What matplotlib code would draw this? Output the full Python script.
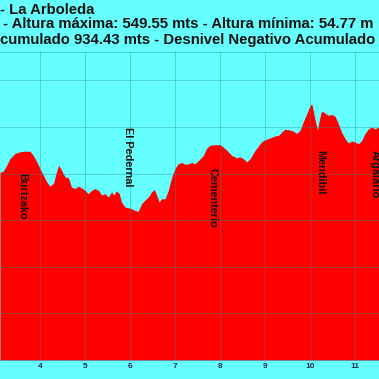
import matplotlib
matplotlib.use("Agg")
import matplotlib.pyplot as plt

# Distance (km) and elevation (m) of the profile
km = [3.11, 3.18, 3.26, 3.33, 3.44, 3.52, 3.63, 3.78, 3.85, 3.93, 4.04, 4.15, 4.22, 4.30,
      4.355, 4.415, 4.48, 4.555, 4.63, 4.70, 4.78, 4.85, 4.93, 5.00, 5.07, 5.15, 5.22, 5.30,
      5.37, 5.44, 5.52, 5.59, 5.64, 5.70, 5.76, 5.81, 5.89, 6.00, 6.11, 6.18, 6.26, 6.33,
      6.41, 6.48, 6.54, 6.59, 6.65, 6.70, 6.78, 6.85, 6.93, 7.00, 7.07, 7.15, 7.22, 7.30,
      7.37, 7.44, 7.52, 7.63, 7.70, 7.78, 7.89, 8.00, 8.07, 8.15, 8.26, 8.37, 8.44, 8.52,
      8.59, 8.67, 8.78, 8.89, 8.96, 9.07, 9.15, 9.22, 9.30, 9.37, 9.44, 9.54, 9.63, 9.70,
      9.78, 9.85, 9.93, 10.00, 10.04, 10.07, 10.13, 10.17, 10.20, 10.24, 10.27, 10.33,
      10.41, 10.48, 10.555, 10.63, 10.70, 10.78, 10.85, 10.93, 11.00, 11.07, 11.15, 11.22,
      11.30, 11.37, 11.44, 11.53]
elev = [403, 405, 418, 432, 443, 446, 448, 448, 439, 425, 403, 382, 373, 379,
        400, 418, 407, 393, 391, 371, 368, 373, 369, 364, 357, 364, 368, 364,
        354, 357, 350, 361, 354, 363, 357, 339, 328, 326, 321, 319, 336, 343,
        350, 361, 366, 354, 339, 346, 346, 364, 393, 411, 421, 424, 420, 421,
        424, 421, 428, 439, 454, 461, 462, 462, 457, 450, 439, 434, 436, 432,
        425, 432, 450, 464, 471, 475, 478, 481, 482, 489, 495, 494, 491, 486,
        493, 511, 529, 546, 549.55, 536, 507, 494, 511, 529, 534, 530,
        525, 527, 523, 507, 489, 475, 466, 470, 468, 464, 471, 486,
        496, 500, 496, 500]

# Waypoint labels
wp_names = ["Burtzako", "El Pedernal", "Cementerio", "Mendibil", "Argalario"]
wp_km = [3.61, 5.95, 7.84, 10.22, 11.44]
wp_top = [401, 500, 412, 451, 451]

x_ticks = [4, 5, 6, 7, 8, 9, 10, 11]
y_grid = [100, 200, 300, 400, 500, 600]

title_1 = "- La Arboleda"
title_2 = "- Altura máxima: 549.55 mts - Altura mínima: 54.77 m"
title_3 = "cumulado 934.43 mts - Desnivel Negativo Acumulado"

BG = "#66FFFF"
FILL = "#FF0000"

fig = plt.figure(figsize=(3.79, 3.79), dpi=100, facecolor=BG)
ax = fig.add_axes([0.0, 19 / 379, 1.0, 308 / 379])
ax.set_facecolor(BG)

ax.fill_between(km, elev, 0, color=FILL, linewidth=0, zorder=1)

ax.set_xlim(3.111, 11.533)
ax.set_ylim(0, 661)
ax.set_xticks(x_ticks)
ax.set_xticklabels([str(t) for t in x_ticks])
ax.set_yticks(y_grid)
ax.tick_params(axis="x", length=0, pad=2, labelsize=6, labelcolor="#1F2D4D")
ax.tick_params(axis="y", length=0, labelleft=False)
for lab in ax.get_xticklabels():
    lab.set_fontweight("bold")
    lab.set_fontfamily("Liberation Sans")

ax.grid(True, color="#2A8C96", alpha=0.45, linewidth=0.6, zorder=2)
ax.set_axisbelow(False)
for s in ["left", "right"]:
    ax.spines[s].set_visible(False)
for s in ["top", "bottom"]:
    ax.spines[s].set_color("#2A8C96")
    ax.spines[s].set_alpha(0.45)
    ax.spines[s].set_linewidth(0.6)

for name, xk, yt in zip(wp_names, wp_km, wp_top):
    ax.text(xk, yt, name, rotation=-90, ha="center", va="top",
            fontsize=7.8, fontweight="bold", family="Liberation Sans",
            color="#111111", zorder=3)

tkw = dict(fontsize=10.7, fontweight="bold", family="Liberation Sans",
           color="#111111", va="baseline", ha="left")
fig.text(0 / 379, 1 - 14 / 379, title_1, **tkw)
fig.text(3 / 379, 1 - 28.5 / 379, title_2, **tkw)
fig.text(0 / 379, 1 - 44 / 379, title_3, **tkw)

fig.savefig("out.png", dpi=100, facecolor=BG)
